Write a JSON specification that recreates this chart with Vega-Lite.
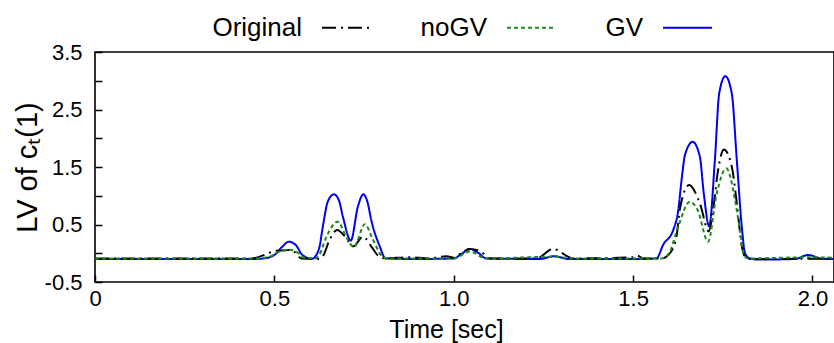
{
  "$schema": "https://vega.github.io/schema/vega-lite/v6.json",
  "autosize": "none",
  "width": 739,
  "height": 230,
  "padding": {"left": 95, "top": 52, "right": 0, "bottom": 61},
  "background": "white",
  "config": {
    "view": {"stroke": "black", "strokeWidth": 1.6},
    "font": "Liberation Sans",
    "axis": {
      "grid": false,
      "domain": false,
      "offset": -7,
      "tickColor": "black",
      "tickWidth": 1.5,
      "tickSize": 7,
      "labelColor": "black",
      "labelFont": "Liberation Sans",
      "labelFontSize": 22,
      "titleFont": "Liberation Sans",
      "titleFontWeight": "normal",
      "titleColor": "black"
    },
    "legend": {
      "orient": "none",
      "legendX": 226,
      "legendY": -50,
      "direction": "horizontal",
      "padding": 0,
      "labelFont": "Liberation Sans",
      "labelFontSize": 26,
      "labelColor": "black",
      "labelAlign": "right",
      "labelOffset": -70,
      "columnPadding": 45,
      "symbolType": "stroke",
      "symbolSize": 2400,
      "symbolStrokeWidth": 2
    }
  },
  "data": {
    "values": [
      {"s": "GV", "t": 0, "v": -0.1},
      {"s": "GV", "t": 0.2, "v": -0.1},
      {"s": "GV", "t": 0.44, "v": -0.1},
      {"s": "GV", "t": 0.47, "v": -0.09},
      {"s": "GV", "t": 0.5, "v": -0.03},
      {"s": "GV", "t": 0.52, "v": 0.1},
      {"s": "GV", "t": 0.54, "v": 0.2},
      {"s": "GV", "t": 0.56, "v": 0.14},
      {"s": "GV", "t": 0.578, "v": -0.03},
      {"s": "GV", "t": 0.605, "v": -0.095},
      {"s": "GV", "t": 0.616, "v": -0.04},
      {"s": "GV", "t": 0.626, "v": 0.12},
      {"s": "GV", "t": 0.635, "v": 0.46},
      {"s": "GV", "t": 0.649, "v": 0.9},
      {"s": "GV", "t": 0.666, "v": 1.025},
      {"s": "GV", "t": 0.68, "v": 0.92},
      {"s": "GV", "t": 0.691, "v": 0.636},
      {"s": "GV", "t": 0.713, "v": 0.22},
      {"s": "GV", "t": 0.733, "v": 0.815},
      {"s": "GV", "t": 0.748, "v": 1.025},
      {"s": "GV", "t": 0.76, "v": 0.88},
      {"s": "GV", "t": 0.77, "v": 0.578},
      {"s": "GV", "t": 0.794, "v": 0.116},
      {"s": "GV", "t": 0.81, "v": -0.09},
      {"s": "GV", "t": 0.9, "v": -0.1},
      {"s": "GV", "t": 1.0, "v": -0.09},
      {"s": "GV", "t": 1.02, "v": -0.02},
      {"s": "GV", "t": 1.045, "v": 0.074},
      {"s": "GV", "t": 1.07, "v": 0.0},
      {"s": "GV", "t": 1.09, "v": -0.09},
      {"s": "GV", "t": 1.24, "v": -0.1},
      {"s": "GV", "t": 1.28, "v": -0.05},
      {"s": "GV", "t": 1.32, "v": -0.1},
      {"s": "GV", "t": 1.5, "v": -0.1},
      {"s": "GV", "t": 1.565, "v": -0.09},
      {"s": "GV", "t": 1.584, "v": 0.15},
      {"s": "GV", "t": 1.612, "v": 0.408},
      {"s": "GV", "t": 1.626, "v": 0.754},
      {"s": "GV", "t": 1.635, "v": 1.27},
      {"s": "GV", "t": 1.645, "v": 1.72},
      {"s": "GV", "t": 1.666, "v": 1.937},
      {"s": "GV", "t": 1.686, "v": 1.68},
      {"s": "GV", "t": 1.697, "v": 1.04},
      {"s": "GV", "t": 1.712, "v": 0.47},
      {"s": "GV", "t": 1.728, "v": 1.627},
      {"s": "GV", "t": 1.74, "v": 2.78},
      {"s": "GV", "t": 1.757, "v": 3.08},
      {"s": "GV", "t": 1.775, "v": 2.78},
      {"s": "GV", "t": 1.789, "v": 1.627},
      {"s": "GV", "t": 1.803, "v": 0.46},
      {"s": "GV", "t": 1.812, "v": 0.0},
      {"s": "GV", "t": 1.825, "v": -0.09},
      {"s": "GV", "t": 1.85, "v": -0.11},
      {"s": "GV", "t": 1.95, "v": -0.1},
      {"s": "GV", "t": 1.988, "v": -0.03},
      {"s": "GV", "t": 2.03, "v": -0.1},
      {"s": "GV", "t": 2.1, "v": -0.1},

      {"s": "Original", "t": 0, "v": -0.09},
      {"s": "Original", "t": 0.3, "v": -0.09},
      {"s": "Original", "t": 0.436, "v": -0.09},
      {"s": "Original", "t": 0.48, "v": -0.01},
      {"s": "Original", "t": 0.5, "v": 0.04},
      {"s": "Original", "t": 0.53, "v": 0.05},
      {"s": "Original", "t": 0.549, "v": 0.06},
      {"s": "Original", "t": 0.56, "v": 0.0},
      {"s": "Original", "t": 0.575, "v": -0.09},
      {"s": "Original", "t": 0.62, "v": -0.1},
      {"s": "Original", "t": 0.635, "v": -0.05},
      {"s": "Original", "t": 0.654, "v": 0.234},
      {"s": "Original", "t": 0.675, "v": 0.406},
      {"s": "Original", "t": 0.697, "v": 0.29},
      {"s": "Original", "t": 0.72, "v": 0.12},
      {"s": "Original", "t": 0.747, "v": 0.29},
      {"s": "Original", "t": 0.77, "v": 0.12},
      {"s": "Original", "t": 0.789, "v": -0.04},
      {"s": "Original", "t": 0.81, "v": -0.09},
      {"s": "Original", "t": 0.88, "v": -0.07},
      {"s": "Original", "t": 0.93, "v": -0.09},
      {"s": "Original", "t": 0.98, "v": -0.05},
      {"s": "Original", "t": 1.0, "v": -0.08},
      {"s": "Original", "t": 1.02, "v": 0.0},
      {"s": "Original", "t": 1.045, "v": 0.074},
      {"s": "Original", "t": 1.075, "v": 0.03},
      {"s": "Original", "t": 1.1, "v": -0.09},
      {"s": "Original", "t": 1.23, "v": -0.09},
      {"s": "Original", "t": 1.277, "v": 0.074},
      {"s": "Original", "t": 1.333, "v": -0.09},
      {"s": "Original", "t": 1.5, "v": -0.07},
      {"s": "Original", "t": 1.51, "v": -0.04},
      {"s": "Original", "t": 1.53, "v": -0.09},
      {"s": "Original", "t": 1.58, "v": -0.09},
      {"s": "Original", "t": 1.6, "v": -0.02},
      {"s": "Original", "t": 1.621, "v": 0.29},
      {"s": "Original", "t": 1.63, "v": 0.754},
      {"s": "Original", "t": 1.656, "v": 1.187},
      {"s": "Original", "t": 1.686, "v": 0.87},
      {"s": "Original", "t": 1.711, "v": 0.38},
      {"s": "Original", "t": 1.723, "v": 0.757},
      {"s": "Original", "t": 1.737, "v": 1.45},
      {"s": "Original", "t": 1.753, "v": 1.805},
      {"s": "Original", "t": 1.775, "v": 1.51},
      {"s": "Original", "t": 1.789, "v": 0.87},
      {"s": "Original", "t": 1.803, "v": 0.12},
      {"s": "Original", "t": 1.815, "v": -0.08},
      {"s": "Original", "t": 1.83, "v": -0.1},
      {"s": "Original", "t": 2.1, "v": -0.09},

      {"s": "noGV", "t": 0, "v": -0.09},
      {"s": "noGV", "t": 0.45, "v": -0.09},
      {"s": "noGV", "t": 0.49, "v": -0.05},
      {"s": "noGV", "t": 0.52, "v": 0.045},
      {"s": "noGV", "t": 0.54, "v": 0.06},
      {"s": "noGV", "t": 0.56, "v": 0.03},
      {"s": "noGV", "t": 0.585, "v": -0.08},
      {"s": "noGV", "t": 0.615, "v": -0.09},
      {"s": "noGV", "t": 0.625, "v": -0.03},
      {"s": "noGV", "t": 0.646, "v": 0.3},
      {"s": "noGV", "t": 0.677, "v": 0.55},
      {"s": "noGV", "t": 0.7, "v": 0.29},
      {"s": "noGV", "t": 0.722, "v": 0.107},
      {"s": "noGV", "t": 0.752, "v": 0.505},
      {"s": "noGV", "t": 0.775, "v": 0.234},
      {"s": "noGV", "t": 0.8, "v": -0.05},
      {"s": "noGV", "t": 0.815, "v": -0.09},
      {"s": "noGV", "t": 1.0, "v": -0.09},
      {"s": "noGV", "t": 1.045, "v": 0.03},
      {"s": "noGV", "t": 1.09, "v": -0.09},
      {"s": "noGV", "t": 1.28, "v": -0.06},
      {"s": "noGV", "t": 1.33, "v": -0.09},
      {"s": "noGV", "t": 1.58, "v": -0.09},
      {"s": "noGV", "t": 1.6, "v": 0.0},
      {"s": "noGV", "t": 1.626, "v": 0.47},
      {"s": "noGV", "t": 1.658, "v": 0.897},
      {"s": "noGV", "t": 1.68, "v": 0.75},
      {"s": "noGV", "t": 1.709, "v": 0.2},
      {"s": "noGV", "t": 1.733, "v": 1.04},
      {"s": "noGV", "t": 1.76, "v": 1.477},
      {"s": "noGV", "t": 1.784, "v": 0.93},
      {"s": "noGV", "t": 1.799, "v": 0.35},
      {"s": "noGV", "t": 1.81, "v": -0.05},
      {"s": "noGV", "t": 1.82, "v": -0.09},
      {"s": "noGV", "t": 1.99, "v": -0.07},
      {"s": "noGV", "t": 2.1, "v": -0.09}
    ]
  },
  "mark": {"type": "line", "interpolate": "monotone", "strokeWidth": 2, "clip": true},
  "encoding": {
    "x": {
      "field": "t", "type": "quantitative",
      "scale": {"domain": [0, 2.06], "nice": false},
      "axis": {
        "title": "Time [sec]",
        "titleFontSize": 25,
        "titlePadding": 8,
        "titleX": 351,
        "values": [0, 0.5, 1, 1.5, 2],
        "labelExpr": "datum.value == 0 ? '0' : format(datum.value, '.1f')",
        "labelPadding": 6,
        "labelFlush": false
      }
    },
    "y": {
      "field": "v", "type": "quantitative",
      "scale": {"domain": [-0.5, 3.5], "nice": false},
      "axis": {
        "title": "LV of cₜ(1)",
        "titleFontSize": 29,
        "titlePadding": 2,
        "values": [-0.5, 0, 0.5, 1, 1.5, 2, 2.5, 3, 3.5],
        "labelExpr": "datum.value == -0.5 ? '-0.5' : (datum.value % 1 == 0 ? '' : format(datum.value, '.1f'))",
        "labelPadding": 13,
        "labelFlush": false
      }
    },
    "color": {
      "field": "s", "type": "nominal",
      "scale": {"domain": ["Original", "noGV", "GV"], "range": ["#000000", "#1a8a1a", "#0000f0"]},
      "legend": {"title": null}
    },
    "strokeDash": {
      "field": "s", "type": "nominal",
      "scale": {"domain": ["Original", "noGV", "GV"], "range": [[14, 5, 2, 5], [4, 3], [1, 0]]},
      "legend": {"title": null}
    },
    "order": {"field": "t", "type": "quantitative"}
  }
}
